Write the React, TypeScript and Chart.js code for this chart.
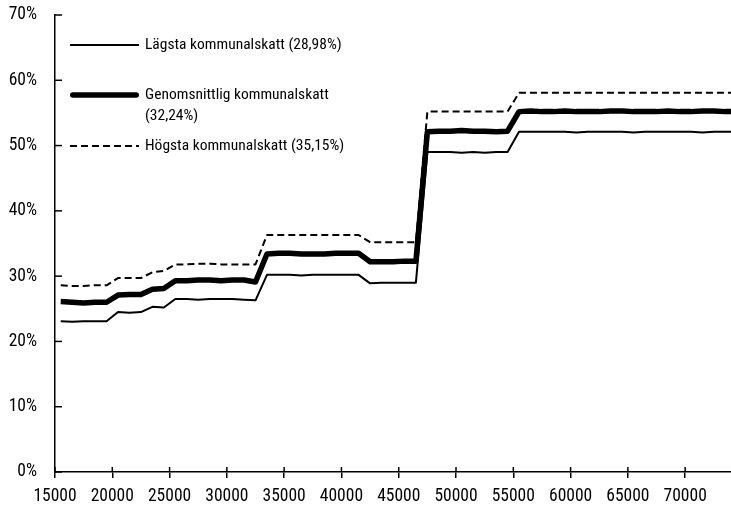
import React, { useEffect, useRef } from 'react';
import { Chart, registerables } from 'chart.js';

Chart.register(...registerables);

// Income (kr/month) sample points
const incomes = [
  15500, 16500, 17500, 18500, 19500, 20500, 21500, 22500, 23500, 24500,
  25500, 26500, 27500, 28500, 29500, 30500, 31500, 32500, 33500, 34500,
  35500, 36500, 37500, 38500, 39500, 40500, 41500, 42500, 43500, 44500,
  45500, 46500, 47500, 48500, 49500, 50500, 51500, 52500, 53500, 54500,
  55500, 56500, 57500, 58500, 59500, 60500, 61500, 62500, 63500, 64500,
  65500, 66500, 67500, 68500, 69500, 70500, 71500, 72500, 73500, 74000,
];

// Lägsta kommunalskatt (28,98%)
const lowest = [
  23.1, 23.0, 23.1, 23.1, 23.1,
  24.5, 24.4, 24.5,
  25.3, 25.2,
  26.5, 26.5, 26.4, 26.5, 26.5, 26.5, 26.4, 26.3,
  30.2, 30.2, 30.2, 30.1, 30.2, 30.2, 30.2, 30.2, 30.2,
  28.9, 29.0, 29.0, 29.0, 29.0,
  49.0, 49.0, 49.0, 48.9, 49.0, 48.9, 49.0, 49.0,
  52.1, 52.1, 52.1, 52.1, 52.1, 52.0, 52.1, 52.1, 52.1, 52.1,
  52.0, 52.1, 52.1, 52.1, 52.1, 52.1, 52.0, 52.1, 52.1,
  52.1,
];

// Genomsnittlig kommunalskatt (32,24%)
const average = [
  26.1, 26.0, 25.9, 26.0, 26.0,
  27.1, 27.2, 27.2,
  28.0, 28.1,
  29.3, 29.3, 29.4, 29.4, 29.3, 29.4, 29.4, 29.1,
  33.4, 33.5, 33.5, 33.4, 33.4, 33.4, 33.5, 33.5, 33.5,
  32.2, 32.2, 32.2, 32.3, 32.3,
  52.1, 52.2, 52.2, 52.3, 52.2, 52.2, 52.1, 52.2,
  55.2, 55.3, 55.2, 55.2, 55.3, 55.2, 55.2, 55.2, 55.3, 55.3,
  55.2, 55.2, 55.2, 55.3, 55.2, 55.2, 55.3, 55.3, 55.2,
  55.2,
];

// Högsta kommunalskatt (35,15%)
const highest = [
  28.6, 28.5, 28.5, 28.6, 28.6,
  29.7, 29.7, 29.7,
  30.6, 30.8,
  31.8, 31.8, 31.9, 31.9, 31.8, 31.8, 31.8, 31.8,
  36.3, 36.3, 36.3, 36.3, 36.3, 36.3, 36.3, 36.3, 36.3,
  35.2, 35.2, 35.2, 35.2, 35.2,
  55.2, 55.2, 55.2, 55.2, 55.2, 55.2, 55.2, 55.2,
  58.1, 58.1, 58.1, 58.1, 58.1, 58.1, 58.1, 58.1, 58.1, 58.1,
  58.1, 58.1, 58.1, 58.1, 58.1, 58.1, 58.1, 58.1, 58.1,
  58.1,
];

const legendTexts = [
  ['Lägsta kommunalskatt (28,98%)'],
  ['Genomsnittlig kommunalskatt', '(32,24%)'],
  ['Högsta kommunalskatt (35,15%)'],
];

const xTickValues = [15000, 20000, 25000, 30000, 35000, 40000, 45000, 50000, 55000, 60000, 65000, 70000];
const yTickValues = [0, 10, 20, 30, 40, 50, 60, 70];

const FONT_FAMILY = '"Roboto Condensed", "DejaVu Sans Condensed", sans-serif';
const LEGEND_SIZE = 15.5;
const TICK_SIZE = 17.5;
const INK = '#000';

const styles = [
  { width: 2, dash: [] as number[], cap: 'butt' as CanvasLineCap },
  { width: 5.5, dash: [] as number[], cap: 'round' as CanvasLineCap },
  { width: 2, dash: [7, 4], cap: 'butt' as CanvasLineCap },
];

const decorations = {
  id: 'decorations',
  afterDraw(chart: any) {
    const { ctx, chartArea, scales } = chart;
    const xs = scales.x;
    const ys = scales.y;
    ctx.save();
    ctx.strokeStyle = INK;
    ctx.lineWidth = 1.5;
    // inward tick marks on the y axis
    ys.ticks.forEach((t: any) => {
      const py = ys.getPixelForValue(t.value);
      ctx.beginPath();
      ctx.moveTo(chartArea.left, py);
      ctx.lineTo(chartArea.left + 7, py);
      ctx.stroke();
    });
    // inward part of x tick marks
    xs.ticks.forEach((t: any) => {
      const px = xs.getPixelForValue(t.value);
      ctx.beginPath();
      ctx.moveTo(px, chartArea.bottom - 5);
      ctx.lineTo(px, chartArea.bottom);
      ctx.stroke();
    });

    // legend inside the plot
    const lx0 = chartArea.left + 15;
    const lx1 = chartArea.left + 84;
    const tx = chartArea.left + 90;
    const rows = [chartArea.top + 30, chartArea.top + 80, chartArea.top + 131];
    const lineH = 21;
    ctx.font = `${LEGEND_SIZE}px ${FONT_FAMILY}`;
    ctx.fillStyle = INK;
    ctx.textBaseline = 'middle';
    ctx.textAlign = 'left';
    legendTexts.forEach((lines, i) => {
      const st = styles[i];
      const y = rows[i];
      ctx.beginPath();
      ctx.lineWidth = st.width;
      ctx.setLineDash(st.dash);
      ctx.lineCap = st.cap;
      ctx.moveTo(lx0 + (st.cap === 'round' ? st.width / 2 : 0), y);
      ctx.lineTo(lx1 - (st.cap === 'round' ? st.width / 2 : 0), y);
      ctx.stroke();
      ctx.setLineDash([]);
      lines.forEach((s, j) => {
        ctx.fillText(s, tx, y + j * lineH);
      });
    });
    ctx.restore();
  },
};

export default function App() {
  const canvasRef = useRef<HTMLCanvasElement | null>(null);

  useEffect(() => {
    if (!canvasRef.current) return;
    const series = [lowest, average, highest];
    const chart = new Chart(canvasRef.current, {
      type: 'line',
      data: {
        datasets: series.map((vals, i) => ({
          label: legendTexts[i].join(' '),
          data: incomes.map((x, k) => ({ x, y: vals[k] })),
          borderColor: INK,
          backgroundColor: INK,
          borderWidth: styles[i].width,
          borderDash: styles[i].dash,
          borderJoinStyle: 'round' as CanvasLineJoin,
          pointRadius: 0,
          pointHoverRadius: 0,
          tension: 0,
          fill: false,
        })),
      },
      options: {
        animation: false,
        responsive: true,
        maintainAspectRatio: false,
        events: [],
        layout: { padding: { top: 15, right: 0, left: 0, bottom: 0 } },
        plugins: {
          legend: { display: false },
          tooltip: { enabled: false },
          title: { display: false },
        },
        scales: {
          x: {
            type: 'linear',
            min: 15000,
            max: 74000,
            afterBuildTicks: (scale: any) => {
              scale.ticks = xTickValues.map((v) => ({ value: v }));
            },
            afterFit: (scale: any) => {
              scale.height = 33;
            },
            ticks: {
              autoSkip: false,
              maxRotation: 0,
              padding: 8,
              color: INK,
              font: { family: FONT_FAMILY, size: TICK_SIZE },
              callback: (v: any) => String(v),
            },
            grid: {
              display: true,
              drawOnChartArea: false,
              drawTicks: true,
              tickLength: 6,
              color: INK,
              lineWidth: 1.5,
            },
            border: { display: true, color: INK, width: 1.5 },
          },
          y: {
            type: 'linear',
            min: 0,
            max: 70,
            afterBuildTicks: (scale: any) => {
              scale.ticks = yTickValues.map((v) => ({ value: v }));
            },
            afterFit: (scale: any) => {
              scale.width = 55;
              scale.paddingTop = 0;
              scale.paddingBottom = 0;
            },
            ticks: {
              padding: 18,
              color: INK,
              font: { family: FONT_FAMILY, size: TICK_SIZE },
              callback: (v: any) => `${v}%`,
            },
            grid: {
              display: true,
              drawOnChartArea: false,
              drawTicks: false,
            },
            border: { display: true, color: INK, width: 1.5 },
          },
        },
      },
      plugins: [decorations],
    });
    return () => chart.destroy();
  }, []);

  return (
    <div style={{ position: 'fixed', left: 0, top: 0, width: 731, height: 505, background: '#fff' }}>
      <canvas ref={canvasRef} />
    </div>
  );
}
